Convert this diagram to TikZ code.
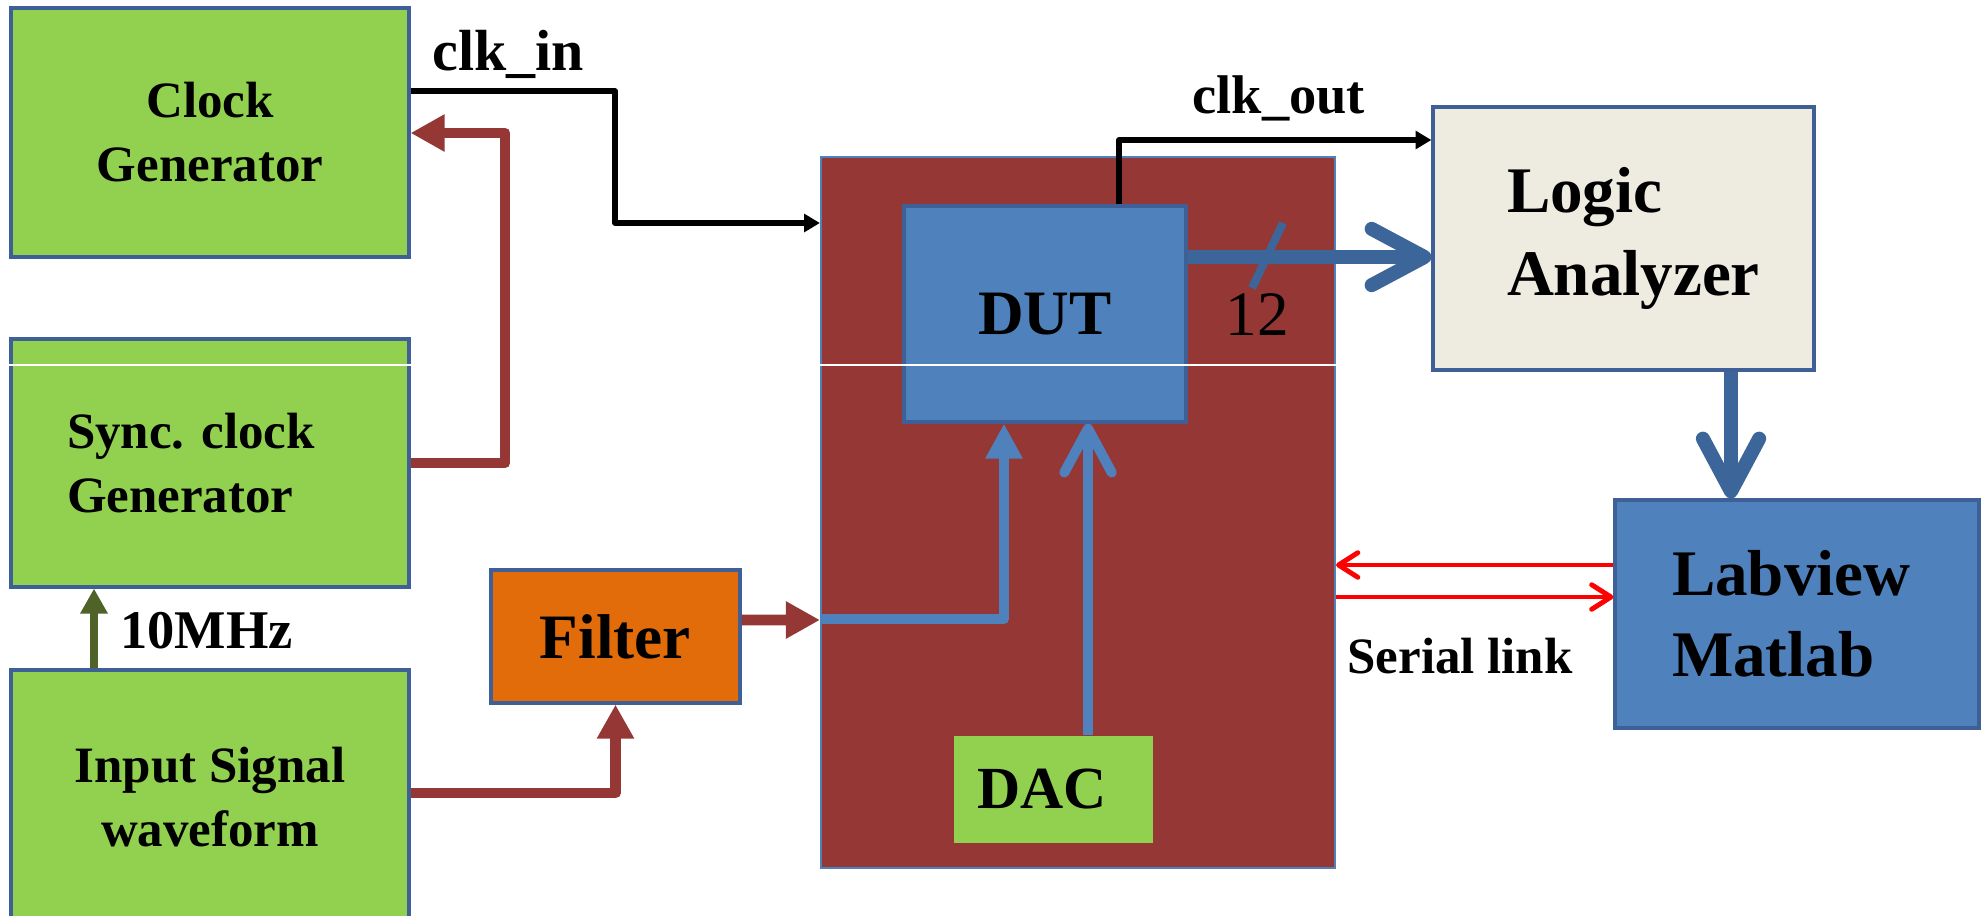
\documentclass[tikz,border=0pt]{standalone}
\usepackage{fontspec}
\setmainfont{Liberation Serif}
\usepackage{tikz}
\usetikzlibrary{arrows.meta}
\frenchspacing

\definecolor{lgreen}{HTML}{92D050}
\definecolor{boxedge}{HTML}{3E6096}
\definecolor{pipered}{HTML}{953735}
\definecolor{dutblue}{HTML}{4F81BD}
\definecolor{busblue}{HTML}{3C6699}
\definecolor{filterorange}{HTML}{E36C0A}
\definecolor{lagrey}{HTML}{EEECE1}
\definecolor{mhzgreen}{HTML}{4F6228}

\newcommand\boldsize[2]{\fontseries{b}\fontsize{#1}{#2}\selectfont}
\newcommand\plainsize[1]{\fontseries{m}\fontsize{#1}{#1}\selectfont}

\begin{document}
\begin{tikzpicture}[
    blk/.style={draw=boxedge, line width=0.9pt, inner sep=0pt, align=center},
    gen/.style={blk, fill=lgreen, minimum width=3.98cm, font=\boldsize{14.5}{18.2}},
    pipe/.style={pipered, line width=3.1pt, line join=round, -{Triangle[length=9.7pt,width=10pt]}},
    wire/.style={black, line width=1.6pt, line join=round, -{Triangle[length=4.5pt,width=5pt]}},
    bus/.style={busblue, line width=4pt, -{Straight Barb[length=15pt,width=16pt,round]}},
    sig/.style={dutblue, line width=2.85pt},
    serial/.style={red, line width=1.4pt, -{Straight Barb[length=5.5pt,width=7pt,round]}},
    lbl/.style={font=\boldsize{15.5}{18}, anchor=base west}
  ]
  \useasboundingbox (0,0) rectangle (19.83,-9.15);

  % sources
  \node[gen, minimum height=2.49cm] (clkgen) at (2.10,-1.325) {Clock\\Generator};
  \node[gen, minimum height=2.48cm, align=left, text width=2.86cm, inner xsep=0.56cm] (syncgen) at (2.10,-4.63) {Sync. clock\\Generator};
  \node[gen, minimum height=2.55cm] (insig) at (2.10,-7.975) {Input Signal\\waveform};
  \node[blk, fill=filterorange, minimum width=2.49cm, minimum height=1.33cm, font=\boldsize{18}{20}] (filter) at (6.155,-6.365) {Filter};

  % test board
  \node[blk, draw=dutblue, line width=0.6pt, fill=pipered, minimum width=5.14cm, minimum height=7.11cm] (board) at (10.78,-5.125) {};
  \node[blk, fill=dutblue, minimum width=2.82cm, minimum height=2.16cm, font=\boldsize{18}{18}] (dut) at (10.45,-3.14) {DUT};
  \node[fill=lgreen, inner xsep=0.23cm, inner ysep=0pt, minimum width=1.99cm, minimum height=1.07cm, text width=1.53cm,
        align=left, font=\boldsize{17}{17}] (dac) at (10.535,-7.895) {DAC};

  % instruments
  \node[blk, fill=lagrey, minimum width=3.81cm, minimum height=2.63cm, align=left, text width=2.33cm,
        inner xsep=0.74cm, font=\boldsize{18.5}{23.5}] (la) at (16.235,-2.385) {Logic\\Analyzer};
  \node[blk, fill=dutblue, minimum width=3.64cm, minimum height=2.28cm, align=left, text width=2.50cm,
        inner xsep=0.57cm, font=\boldsize{18.5}{23}] (lab) at (17.97,-6.14) {Labview\\Matlab};

  % thin white streak across the boxes
  \draw[white, line width=0.4pt] (syncgen.west |- 0,-3.65) -- (syncgen.east |- 0,-3.65);
  \draw[white, line width=0.4pt] (board.west |- 0,-3.65) -- (board.east |- 0,-3.65);

  % clocks
  \draw[wire] ([yshift=4.15mm]clkgen.east) -| (6.15,-2.23) -- (board.west |- 6.15,-2.23);
  \draw[pipe] (syncgen.east) -| (5.05,-1.33) -- (clkgen.east |- 5.05,-1.33);
  \draw[mhzgreen, line width=2.3pt, -{Triangle[length=7.1pt,width=7.4pt]}] (insig.north -| 0.94,0) -- (syncgen.south -| 0.94,0);
  \node[lbl] (mhz) at (1.08,-6.48) {10MHz};
  \node[lbl, font=\boldsize{16.5}{18}] (clkin) at (4.20,-0.70) {clk\_in};

  % signal path
  \draw[pipe] ([yshift=0.45mm]insig.east) -| (filter.south);
  \draw[pipe] ([yshift=1.65mm]filter.east) -- (board.west |- 0,-6.20);
  \draw[sig, line join=round, -{Triangle[length=10pt,width=10pt]}] (board.west |- 0,-6.19) -| (dut.south -| 10.04,0);
  \draw[sig, -{Straight Barb[length=12.5pt,width=13.5pt,round]}] (dac.north -| 10.88,0) -- (dut.south -| 10.88,0);

  % outputs
  \draw[wire] (dut.north -| 11.19,0) |- (la.west |- 0,-1.40);
  \node[lbl] (clkout) at (11.80,-1.13) {clk\_out};
  \coordinate (busL) at (dut.east |- 0,-2.57);
  \draw[bus] (busL) -- (la.west |- busL);
  \draw[busblue, line width=2.3pt] (12.83,-2.23) -- (12.52,-2.88);
  \node[font=\plainsize{18}] (buswidth) at (12.57,-3.15) {12};
  \draw[bus] (la.south -| 17.31,0) -- (lab.north -| 17.31,0);

  % serial link
  \draw[serial] (lab.west |- 0,-5.65) -- (board.east |- 0,-5.65);
  \draw[serial] (board.east |- 0,-5.97) -- (lab.west |- 0,-5.97);
  \node[lbl, font=\boldsize{14.5}{17}] (serlbl) at (13.35,-6.73) {Serial link};
\end{tikzpicture}
\end{document}
